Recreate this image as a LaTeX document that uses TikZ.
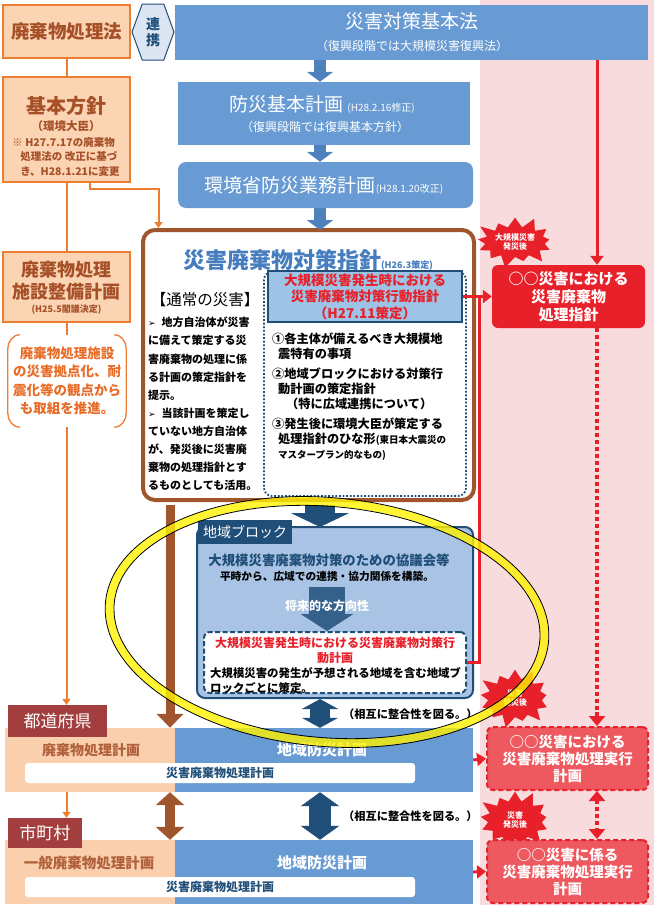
\documentclass[tikz,border=0pt]{standalone}
\usepackage{fontspec}
\setmainfont{Noto Sans CJK JP}
\newfontfamily\symfont{DejaVu Sans}
\usepackage{xcolor}
\usetikzlibrary{arrows.meta,positioning,shapes.symbols,calc}
\definecolor{peach}{RGB}{251,212,180}
\definecolor{peachrow}{RGB}{250,207,174}
\definecolor{orangeline}{RGB}{237,125,49}
\definecolor{peachtext}{RGB}{166,80,40}
\definecolor{rowtext}{RGB}{176,96,58}
\definecolor{bracktext}{RGB}{232,108,40}
\definecolor{boxblue}{RGB}{104,155,211}
\definecolor{arrowblue}{RGB}{79,129,189}
\definecolor{titleblue}{RGB}{70,125,190}
\definecolor{darknavy}{RGB}{31,78,121}
\definecolor{lightblue}{RGB}{157,195,230}
\definecolor{regionblue}{RGB}{168,195,227}
\definecolor{brownline}{RGB}{160,85,45}
\definecolor{alertred}{RGB}{232,32,42}
\definecolor{execred}{RGB}{238,88,95}
\definecolor{pinkbg}{RGB}{248,220,221}
\definecolor{tabred}{RGB}{163,62,62}
\definecolor{renkeifill}{RGB}{220,230,242}
\definecolor{ringyellow}{RGB}{255,242,0}
\newcommand\fsz[2]{\fontsize{#1}{#2}\selectfont}
\tikzset{
  peachbox/.style={rectangle, draw=orangeline, line width=1.2pt, fill=peach, inner sep=0pt},
  bluebox/.style={rectangle, fill=boxblue, inner sep=0pt},
  wtxt/.style={text=white, inner sep=0pt},
  ptxt/.style={text=peachtext, inner sep=0pt, align=center},
  redbox/.style={rectangle, rounded corners=6pt, fill=alertred, text=white, align=center,
                 font=\bfseries\fsz{15}{18}, inner sep=0pt},
  execbox/.style={rectangle, rounded corners=6pt, fill=execred, draw=alertred, line width=2pt,
                  dash pattern=on 5pt off 3pt, text=white, align=center,
                  font=\bfseries\fsz{14.5}{17}, inner sep=0pt},
  burst/.style={starburst, starburst points=13, starburst point height=13pt, fill=alertred,
                text=white, align=center, font=\bfseries\fsz{8}{9.5}, inner sep=0pt},
  rowtab/.style={rectangle, fill=tabred, text=white, font=\fsz{17}{19}, inner sep=0pt},
  strip/.style={rectangle, rounded corners=3pt, fill=white, text=darknavy,
                font=\bfseries\fsz{12}{14}, inner sep=0pt},
  bluearr/.style={-{Triangle[width=26pt,length=10pt]}, line width=12pt, arrowblue},
  orline/.style={line width=2pt, orangeline},
  orarrow/.style={-{Triangle[width=8pt,length=6pt]}, line width=2pt, orangeline},
  redline/.style={line width=3pt, alertred},
  redarrow/.style={-{Triangle[width=13pt,length=9pt]}, line width=3pt, alertred},
  reddots/.style={line width=4pt, alertred, dash pattern=on 4pt off 3pt},
  lbl/.style={font=\bfseries\fsz{11.2}{13}, inner sep=0pt},
}
\begin{document}
\begin{tikzpicture}[x=1pt,y=-1pt]
  \useasboundingbox (0,0) rectangle (659,918);
  \fill[pinkbg] (480,0) rectangle (654,905);
  \coordinate (mainaxis) at (320,0);
  \coordinate (redcol) at (597,0);
  \coordinate (browncol) at (170,0);
  \coordinate (redjoin) at (479,296.5);

  % national level
  \node[bluebox, minimum width=473pt, minimum height=55pt] (kihonho) at (411.5,32.5) {};
  \node[wtxt, font=\fsz{19}{22}] (kihonhot) at (412,21) {災害対策基本法};
  \node[wtxt, font=\fsz{12}{14}] (kihonhos) at (412,46) {（復興段階では大規模災害復興法）};
  \node[bluebox, minimum width=292pt, minimum height=63pt] (bousai) at (324,113.5) {};
  \node[wtxt, font=\fsz{19}{22}] (bousait) at (322,104) {防災基本計画 {\fsz{10}{12}(H28.2.16修正)}};
  \node[wtxt, font=\fsz{12}{14}] (bousais) at (325,127) {（復興段階では復興基本方針）};
  \node[bluebox, rounded corners=8pt, minimum width=295pt, minimum height=46pt] (gyomu) at (325.5,185) {};
  \node[wtxt, font=\fsz{19}{22}] (gyomut) at (324,185) {環境省防災業務計画{\fsz{10}{12}(H28.1.20改正)}};
  \draw[bluearr] (kihonho.south -| mainaxis) -- (bousai.north -| mainaxis);
  \draw[bluearr] (bousai.south -| mainaxis) -- (gyomu.north -| mainaxis);

  % left column
  \node[peachbox, minimum width=127pt, minimum height=53pt] (haikiho) at (66.5,31.5) {};
  \node[ptxt, font=\bfseries\fsz{18.5}{20}] (haikihot) at (66.5,31.5) {廃棄物処理法};
  \node[signal, signal to=east and west, signal pointer angle=140, draw=darknavy, line width=1pt,
        fill=renkeifill, minimum width=42pt, minimum height=56pt, inner sep=0pt,
        text=darknavy, align=center, font=\bfseries\fsz{14}{16}] (renkei) at (153,32) {連\\携};
  \node[peachbox, minimum width=127pt, minimum height=105pt] (hoshin) at (66.5,129.5) {};
  \node[ptxt, font=\bfseries\fsz{20}{22}] (hoshint) at (66,106) {基本方針};
  \node[ptxt, font=\bfseries\fsz{11.5}{13}] (hoshins) at (66,126) {（環境大臣）};
  \node[ptxt, align=left, font=\bfseries\fsz{10.5}{14.5}] (hoshinn) at (66,157) {※ H27.7.17の廃棄物\\\hspace*{8pt}処理法の 改正に基づ\\\hspace*{8pt}き、H28.1.21に変更};
  \node[peachbox, minimum width=127pt, minimum height=70pt] (seibi) at (66.5,287) {};
  \node[ptxt, font=\bfseries\fsz{18}{22}] (seibit) at (66.5,281) {廃棄物処理\\施設整備計画};
  \node[ptxt, font=\bfseries\fsz{9}{10}] (seibis) at (66.5,310) {(H25.5閣議決定)};
  \node[minimum width=118pt, minimum height=92pt, inner sep=0pt, text=bracktext, align=center,
        font=\bfseries\fsz{13.5}{18.5}] (kyoten) at (67,381) {廃棄物処理施設\\の災害拠点化、耐\\震化等の観点から\\も取組を推進。};
  \draw[orangeline, line width=1.3pt] ([xshift=12pt]kyoten.north west) to[out=180,in=90] ([yshift=-14pt]kyoten.north west)
        -- ([yshift=14pt]kyoten.south west) to[out=-90,in=180] ([xshift=12pt]kyoten.south west);
  \draw[orangeline, line width=1.3pt] ([xshift=-12pt]kyoten.north east) to[out=0,in=90] ([yshift=-14pt]kyoten.north east)
        -- ([yshift=14pt]kyoten.south east) to[out=-90,in=0] ([xshift=-12pt]kyoten.south east);
  \draw[orline] (haikiho.south) -- (hoshin.north);
  \draw[orline] (hoshin.south) -- (seibi.north);
  \draw[orline] (seibi.south) -- (seibi.south |- kyoten.north);

  % guideline (brown frame)
  \node[rectangle, rounded corners=12pt, draw=brownline, line width=4pt, fill=white,
        minimum width=331pt, minimum height=270pt] (shishin) at (308.5,365) {};
  \draw[orarrow] ([xshift=23.5pt]hoshin.south) -- ++(0,6) -| ([xshift=-150pt]shishin.north);
  \draw[bluearr] (gyomu.south -| mainaxis) -- ([yshift=-2pt]shishin.north -| mainaxis);
  \node[text=titleblue, inner sep=0pt, font=\bfseries\fsz{22}{24}] (shishint) at (308,260) {災害廃棄物対策指針{\fsz{9}{10}(H26.3策定)}};
  \node[inner sep=0pt, font=\fsz{15.5}{17}] (tsujo) at (205,300) {【通常の災害】};
  \node[anchor=north west, align=left, inner sep=0pt, font=\bfseries\fsz{11}{18.1}] (tsujob) at (148,317)
    {{\symfont\fsz{9}{18.1}➢}\hspace*{6pt}地方自治体が災害\\に備えて策定する災\\害廃棄物の処理に係\\る計画の策定指針を\\提示。\\
     {\symfont\fsz{9}{18.1}➢}\hspace*{6pt}当該計画を策定し\\ていない地方自治体\\が、発災後に災害廃\\棄物の処理指針とす\\るものとしても活用。};
  \node[rectangle, rounded corners=8pt, draw=darknavy, line width=1.8pt, dash pattern=on 1.8pt off 1.8pt,
        minimum width=202pt, minimum height=224pt] (daikibo) at (365,384) {};
  \node[rectangle, fill=lightblue, draw=darknavy, line width=2pt, minimum width=194pt, minimum height=51pt,
        text=alertred, align=center, inner sep=0pt, font=\bfseries\fsz{13.5}{16.5}] (koudou) at (365,296.5)
    {大規模災害発生時における\\災害廃棄物対策行動指針\\（H27.11策定）};
  \node[anchor=north west, align=left, inner sep=0pt, font=\bfseries\fsz{12.2}{15}] (jiko) at (272,333)
    {①各主体が備えるべき大規模地\\\hspace*{6pt}震特有の事項\\[5pt]
     ②地域ブロックにおける対策行\\\hspace*{6pt}動計画の策定指針\\\hspace*{14pt}（特に広域連携について）\\[5pt]
     ③発生後に環境大臣が策定する\\\hspace*{6pt}処理指針のひな形{\fsz{9.5}{15}(東日本大震災の}\\\hspace*{6pt}{\fsz{9.5}{15}マスタープラン的なもの)}};

  % disaster-specific (red side)
  \node[burst, minimum width=86pt, minimum height=56pt] (burst1) at (515,242) {大規模災害\\発災後};
  \node[redbox, minimum width=153pt, minimum height=63pt] (shori) at (568.5,296.5) {○○災害における\\災害廃棄物\\処理指針};
  \draw[redarrow] (kihonho.south -| redcol) -- (shori.north -| redcol);
  \draw[redarrow] (koudou.east) -- (shori.west);

  % regional block
  \draw[-{Triangle[width=58pt,length=14pt]}, line width=30pt, darknavy] ([yshift=-3pt]shishin.south -| mainaxis) -- (mainaxis |- 0,527);
  \node[rectangle, rounded corners=8pt, fill=regionblue, draw=darknavy, line width=2pt,
        minimum width=276pt, minimum height=171pt] (block) at (335,612.5) {};
  \node[rectangle, fill=darknavy, text=white, anchor=north west, minimum width=94pt, minimum height=24pt,
        inner sep=0pt, font=\fsz{14}{16}] (blocktab) at (198,520) {地域ブロック};
  \node[text=darknavy, inner sep=0pt, font=\bfseries\fsz{13.4}{16}] (kyogikai) at (329,560) {大規模災害廃棄物対策のための協議会等};
  \node[inner sep=0pt, font=\bfseries\fsz{10.7}{13}] (heiji) at (327,576) {平時から、広域での連携・協力関係を構築。};
  \node[rectangle, rounded corners=6pt, fill=white, draw=darknavy, line width=2pt, dash pattern=on 5pt off 2.5pt,
        minimum width=262pt, minimum height=61pt] (kodo) at (335,662.5) {};
  \draw[-{Triangle[width=52pt,length=17pt]}, line width=36pt, darknavy!85!regionblue] ([yshift=-6pt]heiji.south) -- (heiji.south |- kodo.north);
  \node[wtxt, font=\bfseries\fsz{12}{14}] (shorai) at (327,606) {将来的な方向性};
  \node[text=alertred, align=center, inner sep=0pt, font=\bfseries\fsz{12}{15}] (kodot) at (335,650.5) {大規模災害発生時における災害廃棄物対策行\\動計画};
  \node[anchor=north west, align=left, inner sep=0pt, font=\bfseries\fsz{11.4}{15}] (kodob) at (210,667) {大規模災害の発生が予想される地域を含む地域ブ\\ロックごとに策定。};
  \draw[redline] (kodo.east) -| (redjoin);
  \draw[reddots] (shori.south -| redcol) -- (redcol |- 0,716);

  % prefecture / municipality rows
  \node[rectangle, fill=peachrow, minimum width=170pt, minimum height=64pt, inner sep=0pt] (prefwaste) at (90,760) {};
  \node[bluebox, minimum width=298pt, minimum height=64pt] (prefplan) at (324,760) {};
  \node[rectangle, fill=peachrow, minimum width=170pt, minimum height=64pt, inner sep=0pt] (citywaste) at (90,872) {};
  \node[bluebox, minimum width=298pt, minimum height=64pt] (cityplan) at (324,872) {};
  \node[rowtab, minimum width=99pt, minimum height=32pt] (preftab) at (57.5,721) {都道府県};
  \node[rowtab, minimum width=74pt, minimum height=30pt] (citytab) at (45,833) {市町村};
  \node[text=rowtext, inner sep=0pt, font=\bfseries\fsz{14}{16}] (prefwastet) at (91,750) {廃棄物処理計画};
  \node[wtxt, font=\bfseries\fsz{15}{17}] (prefplant) at (322,750) {地域防災計画};
  \node[strip, minimum width=390pt, minimum height=20pt] (strip1) at (220,773) {災害廃棄物処理計画};
  \node[text=rowtext, inner sep=0pt, font=\bfseries\fsz{14.5}{16}] (citywastet) at (89,863) {一般廃棄物処理計画};
  \node[wtxt, font=\bfseries\fsz{15}{17}] (cityplant) at (322,863) {地域防災計画};
  \node[strip, minimum width=390pt, minimum height=20pt] (strip2) at (220,887) {災害廃棄物処理計画};
  \draw[orarrow] (seibi.south |- kyoten.south) -- (seibi.south |- preftab.north);
  \draw[orarrow] (seibi.south |- prefwaste.south) -- (seibi.south |- citytab.north);
  \draw[-{Triangle[width=26pt,length=14pt]}, line width=9pt, brownline] ([yshift=-3pt]shishin.south -| browncol) -- (browncol |- prefwaste.north);
  \draw[{Triangle[width=28pt,length=13pt]}-{Triangle[width=28pt,length=13pt]}, line width=10pt, brownline] (prefwaste.south -| browncol) -- (citywaste.north -| browncol);
  \draw[{Triangle[width=36pt,length=10pt]}-{Triangle[width=36pt,length=10pt]}, line width=20pt, darknavy] (block.south -| mainaxis) -- (prefplan.north -| mainaxis);
  \draw[{Triangle[width=38pt,length=14pt]}-{Triangle[width=38pt,length=14pt]}, line width=22pt, darknavy] (prefplan.south -| mainaxis) -- (cityplan.north -| mainaxis);
  \node[lbl, anchor=west] (seigo1) at (343,714) {（相互に整合性を図る。）};
  \node[lbl, anchor=west] (seigo2) at (343,816) {（相互に整合性を図る。）};

  % execution plans
  \node[burst, minimum width=80pt, minimum height=64pt] (burst2) at (515,698) {災害\\発災後};
  \node[burst, minimum width=80pt, minimum height=64pt] (burst3) at (515,820) {災害\\発災後};
  \node[execbox, minimum width=161pt, minimum height=63pt] (jikko1) at (567.5,758.5) {○○災害における\\災害廃棄物処理実行\\計画};
  \node[execbox, minimum width=161pt, minimum height=63pt] (jikko2) at (567.5,871.5) {○○災害に係る\\災害廃棄物処理実行\\計画};
  \draw[reddots, -{Triangle[width=16pt,length=10pt]}] (redcol |- 0,712) -- (jikko1.north -| redcol);
  \draw[reddots, {Triangle[width=16pt,length=10pt]}-{Triangle[width=16pt,length=10pt]}] (jikko1.south -| redcol) -- (jikko2.north -| redcol);
  \draw[redarrow] (prefplan.east) -- (jikko1.west);
  \draw[redarrow] (cityplan.east) -- (jikko2.west);

  % highlight ring
  \draw[ringyellow, line width=8pt, opacity=0.8, rotate around={-5:(327,622)}] (327,622) ellipse [x radius=218, y radius=120];
  \draw[black, line width=0.8pt, rotate around={-5:(327,622)}] (327,622) ellipse [x radius=222.4, y radius=124.4];
  \draw[black, line width=0.8pt, rotate around={-5:(327,622)}] (327,622) ellipse [x radius=213.6, y radius=115.6];
\end{tikzpicture}
\end{document}
